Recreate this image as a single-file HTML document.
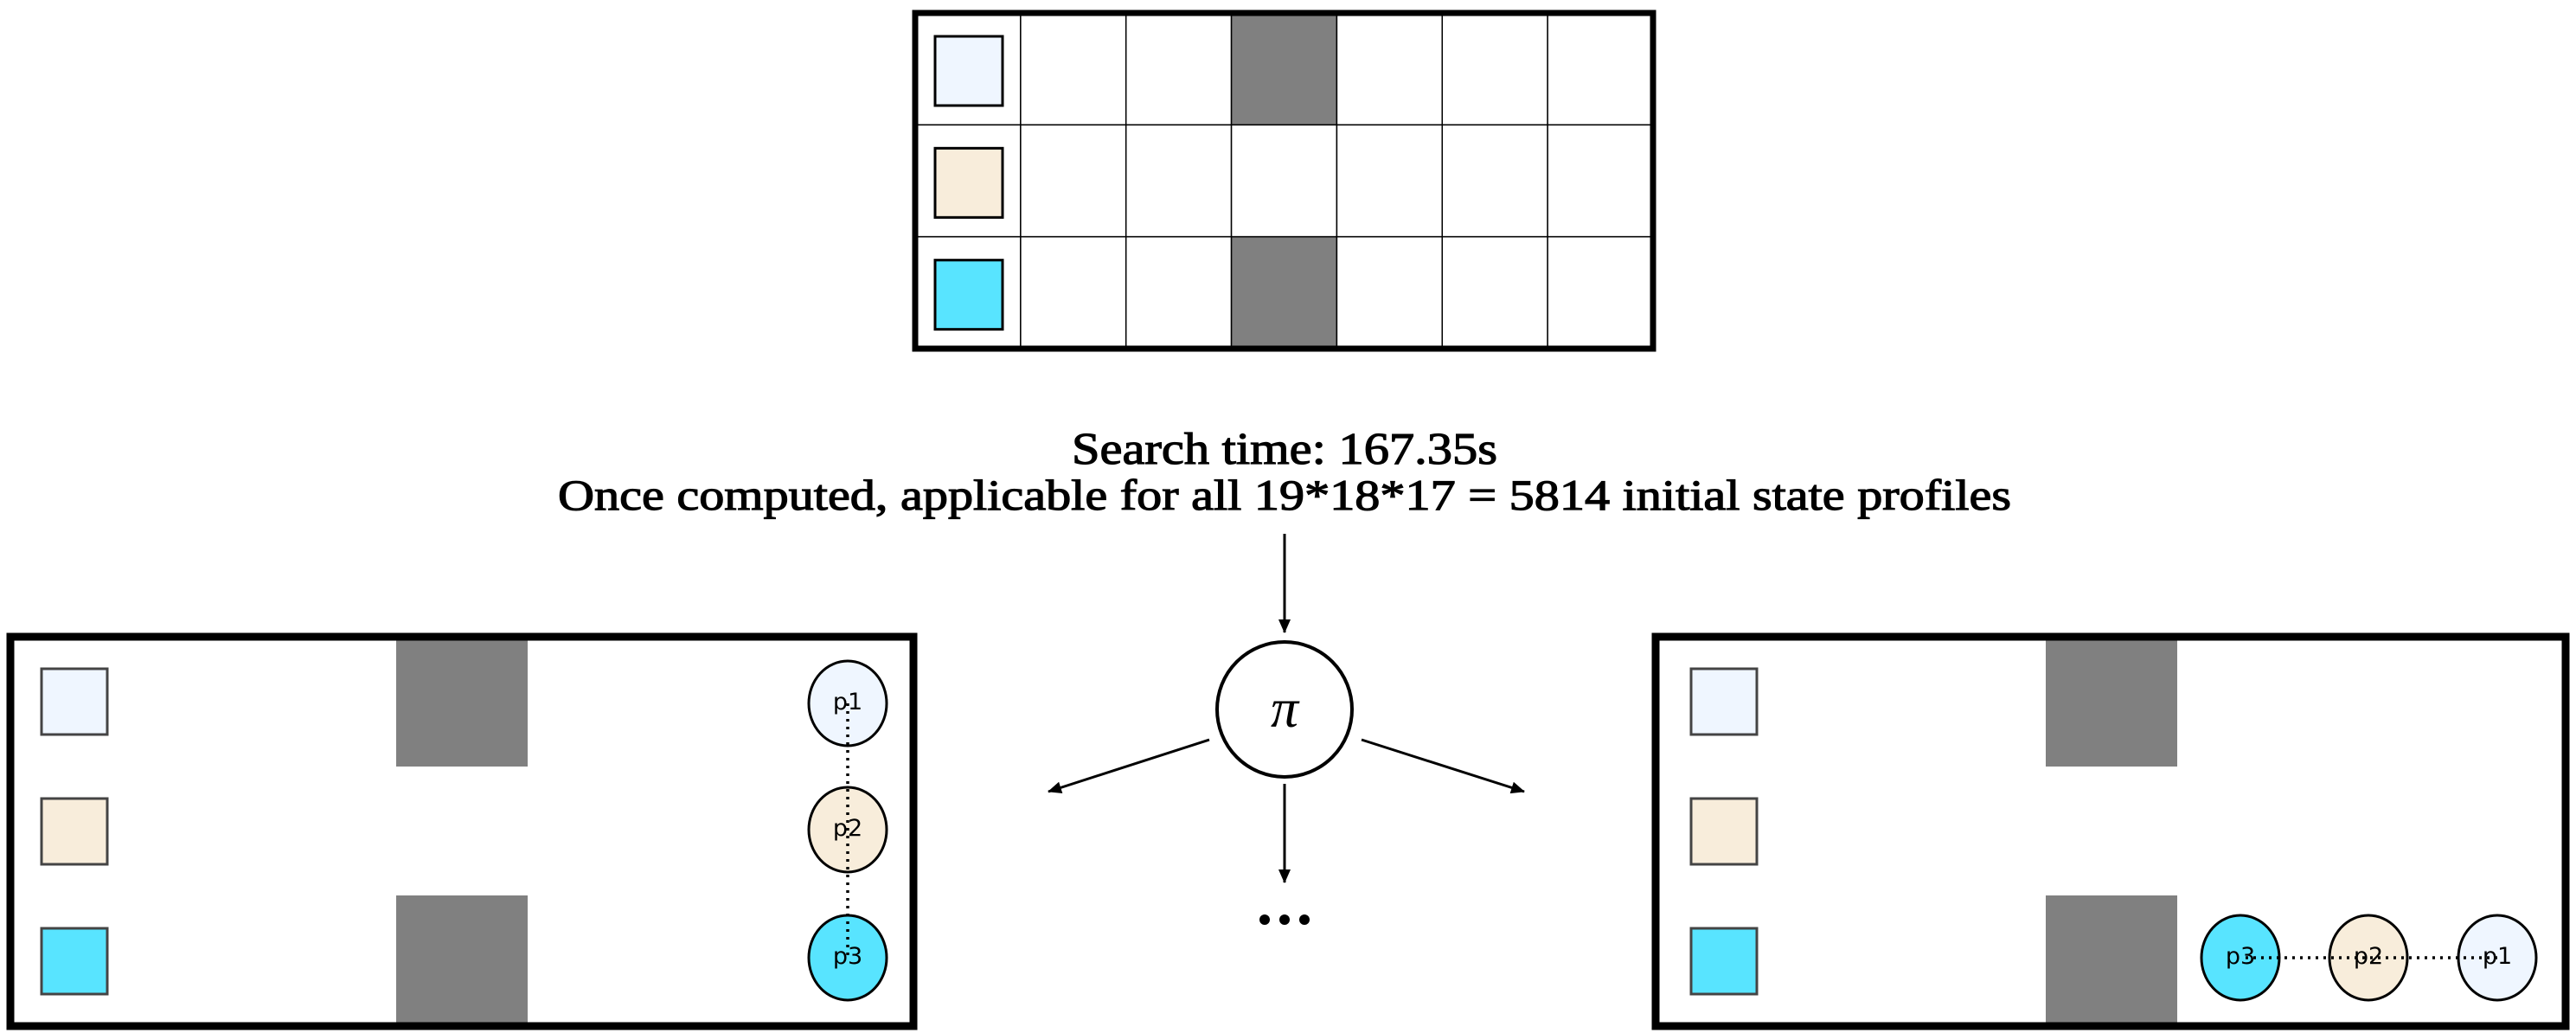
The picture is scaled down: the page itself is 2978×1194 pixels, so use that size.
<!DOCTYPE html>
<html><head><meta charset="utf-8"><style>
html,body{margin:0;padding:0;background:#fff;}
svg{display:block;}
</style></head><body>
<svg width="2978" height="1194" viewBox="0 0 2978 1194" xmlns="http://www.w3.org/2000/svg">
<defs>
<marker id="ah" markerWidth="16" markerHeight="14" refX="15" refY="7" orient="auto" markerUnits="userSpaceOnUse" viewBox="0 0 16 14">
<path d="M0,0 L16,7 L0,14 z" fill="#000"/>
</marker>
</defs>
<g id="topgrid"></g>
<text x="1485" y="536" text-anchor="middle" font-family="Liberation Serif, serif" font-size="52" fill="#000" stroke="#000" stroke-width="1.2" textLength="492" lengthAdjust="spacingAndGlyphs">Search time: 167.35s</text>
<text x="1485" y="589" text-anchor="middle" font-family="Liberation Serif, serif" font-size="50" fill="#000" stroke="#000" stroke-width="1.2" textLength="1680" lengthAdjust="spacingAndGlyphs">Once computed, applicable for all 19*18*17 = 5814 initial state profiles</text>
<line x1="1485" y1="617" x2="1485" y2="731" stroke="#000" stroke-width="3" marker-end="url(#ah)"/>
<circle cx="1485" cy="820" r="78" fill="#fff" stroke="#000" stroke-width="4"/>
<text x="1485" y="840" text-anchor="middle" font-family="Liberation Serif, serif" font-style="italic" font-size="64">π</text>
<line x1="1398" y1="855" x2="1212" y2="915" stroke="#000" stroke-width="3" marker-end="url(#ah)"/>
<line x1="1574" y1="855" x2="1762" y2="915" stroke="#000" stroke-width="3" marker-end="url(#ah)"/>
<line x1="1485" y1="906" x2="1485" y2="1020" stroke="#000" stroke-width="3" marker-end="url(#ah)"/>
<g fill="#000">
<circle cx="1462" cy="1063" r="6"/><circle cx="1485" cy="1063" r="6"/><circle cx="1508" cy="1063" r="6"/>
</g>
<g id="left"></g>
<g id="right"></g>
</svg>
<script>
const NS='http://www.w3.org/2000/svg';
const colors=['#eff6ff','#f8eddb','#58e4ff'];
const obstacleRows=[0,2];
const obstacleCol=3;
const cols=7, rows=3;
const labels=['p1','p2','p3'];
function mk(tag,attrs,parent){const e=document.createElementNS(NS,tag);for(const k in attrs)e.setAttribute(k,attrs[k]);parent.appendChild(e);return e;}
const tg=document.getElementById('topgrid');
const gx=1058,gy=15,gw=853,gh=388,cw=gw/cols,rh=gh/rows;
for(let r=0;r<rows;r++)for(let c=0;c<cols;c++){
 const isObs=c===obstacleCol&&obstacleRows.includes(r);
 const cell=mk('rect',{x:gx+c*cw,y:gy+r*rh,width:cw,height:rh,fill:isObs?'#808080':'#fff',stroke:'#000','stroke-width':1.5},tg);
 
 
}
for(let r=0;r<rows;r++){
 const s=mk('rect',{x:gx+23,y:gy+r*rh+27,width:78,height:80,fill:colors[r],stroke:'#000','stroke-width':3},tg);
 
 
}
const tb=mk('rect',{x:gx,y:gy,width:gw,height:gh,fill:'none',stroke:'#000','stroke-width':7},tg);


function panel(g,x0,w,ix,circles){
 const y0=732,h=458;
 mk('rect',{x:x0,y:y0,width:w,height:h,fill:'#fff'},g);
 const gxp=ix+448;
 const o1=mk('rect',{x:gxp,y:y0+6,width:152,height:148,fill:'#808080'},g);
 
 
 const o2=mk('rect',{x:gxp,y:y0+303,width:152,height:150,fill:'#808080'},g);
 
 
 for(let r=0;r<3;r++){
  const s=mk('rect',{x:ix+38,y:773+r*150,width:76,height:76,fill:colors[r],stroke:'#444','stroke-width':3},g);
  
  
 }
 const pts=circles;
 for(let i=0;i<3;i++){
  const c=mk('ellipse',{cx:pts[i][0],cy:pts[i][1],rx:45,ry:49,fill:colors[i],stroke:'#000','stroke-width':3},g);
  
  
 }
 const ln=mk('polyline',{points:pts.map(p=>p.join(',')).join(' '),fill:'none',stroke:'#000','stroke-width':3.5,'stroke-dasharray':'3,6'},g);
 
 
 for(let i=0;i<3;i++){
  const t=mk('text',{x:pts[i][0],y:pts[i][1]+7,'text-anchor':'middle','font-family':'DejaVu Sans, sans-serif','font-size':27},g);
  t.textContent=labels[i];
  
  
 }
 const b=mk('rect',{x:x0+4,y:y0+4,width:w-8,height:h-8,fill:'none',stroke:'#000','stroke-width':9},g);
 
 
}
panel(document.getElementById('left'),8,1052,10,[[980,813],[980,959],[980,1107]]);
panel(document.getElementById('right'),1910,1060,1917,[[2887,1107],[2738,1107],[2590,1107]]);
</script>
</body></html>
